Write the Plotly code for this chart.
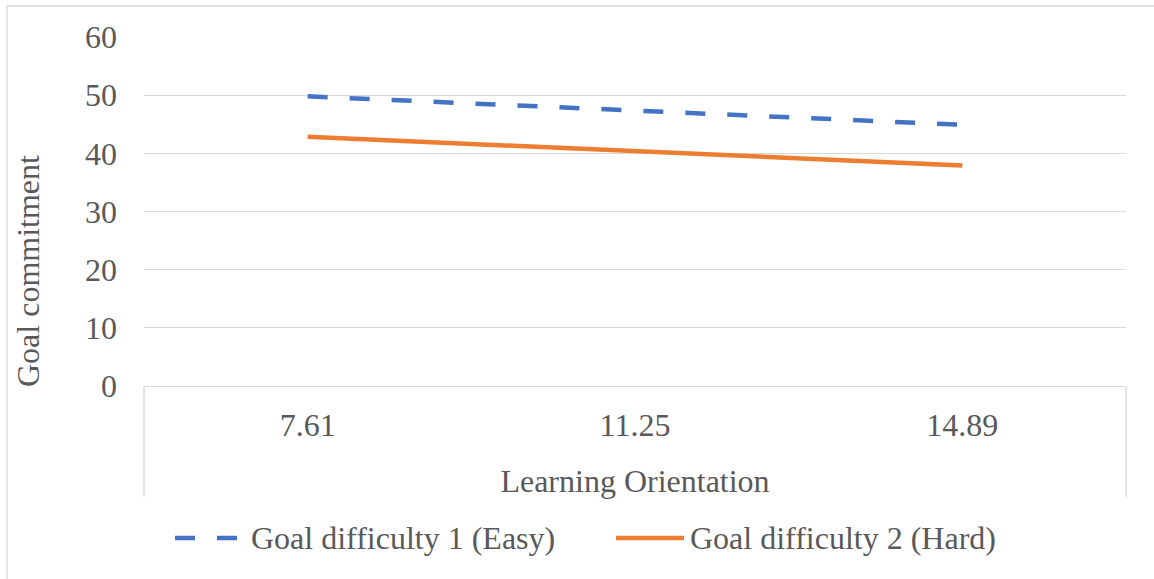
import plotly.graph_objects as go

categories = ["7.61", "11.25", "14.89"]
easy_values = [49.8, 47.35, 44.9]
hard_values = [42.85, 40.35, 37.9]
series_names = ["Goal difficulty 1 (Easy)", "Goal difficulty 2 (Hard)"]
series_colors = ["#4472C4", "#ED7D31"]
y_ticks = [0, 10, 20, 30, 40, 50, 60]

FONT = "Liberation Serif, Times New Roman, serif"
TXT = "#595959"
GRID = "#d9d9d9"
FS = 32

# plot area in pixels
L, R, T, B = 144, 1126, 37, 386
PW, PH = R - L, B - T


def px(x):
    return (x - L) / PW


def py(y):
    return (B - y) / PH


fig = go.Figure()
fig.add_trace(go.Scatter(x=categories, y=easy_values, mode="lines", name=series_names[0],
                         line=dict(color=series_colors[0], width=4.5, dash="20px,22px"),
                         showlegend=False))
fig.add_trace(go.Scatter(x=categories, y=hard_values, mode="lines", name=series_names[1],
                         line=dict(color=series_colors[1], width=4.5),
                         showlegend=False))

fig.update_layout(
    width=1154, height=579,
    margin=dict(l=L, r=1154 - R, t=T, b=579 - B, autoexpand=False),
    paper_bgcolor="white", plot_bgcolor="white",
    font=dict(family=FONT, size=FS, color=TXT),
    xaxis=dict(type="category", showgrid=False, showline=True, linecolor=GRID, linewidth=1.3,
               ticks="", ticklabelstandoff=10, tickfont=dict(size=FS, color=TXT),
               range=[-0.5, 2.5],
               title=dict(text="Learning Orientation", standoff=28, font=dict(size=FS, color=TXT))),
    yaxis=dict(range=[0, 60], tickvals=y_ticks, showgrid=True, gridcolor=GRID, gridwidth=1.3,
               zeroline=False, showline=False, ticks="", ticklabelstandoff=26,
               tickfont=dict(size=FS, color=TXT)),
)

# Y-axis title placed like Excel (centered on axis + category area)
fig.add_annotation(text="Goal commitment", textangle=-90, xref="paper", yref="paper",
                   x=px(28), y=py(271), showarrow=False,
                   font=dict(family=FONT, size=FS, color=TXT), xanchor="center", yanchor="middle")

# Category axis box side lines
for xp in (0, 1):
    fig.add_shape(type="line", xref="paper", yref="paper", x0=xp, x1=xp, y0=0, y1=py(497),
                  line=dict(color=GRID, width=1.3))

# Outer chart border
fig.add_shape(type="rect", xref="paper", yref="paper",
              x0=px(7), x1=px(1160), y0=py(590), y1=py(6),
              line=dict(color=GRID, width=1.3))

# Custom legend (Excel-style)
leg_y = py(538)
fig.add_shape(type="line", xref="paper", yref="paper", x0=px(175), x1=px(237), y0=leg_y, y1=leg_y,
              line=dict(color=series_colors[0], width=4.5, dash="20px,22px"))
fig.add_annotation(text=series_names[0], xref="paper", yref="paper", x=px(249), y=leg_y,
                   xanchor="left", yanchor="middle", showarrow=False,
                   font=dict(family=FONT, size=FS, color=TXT))
fig.add_shape(type="line", xref="paper", yref="paper", x0=px(616), x1=px(684), y0=leg_y, y1=leg_y,
              line=dict(color=series_colors[1], width=4.5))
fig.add_annotation(text=series_names[1], xref="paper", yref="paper", x=px(688), y=leg_y,
                   xanchor="left", yanchor="middle", showarrow=False,
                   font=dict(family=FONT, size=FS, color=TXT))

fig.write_html("out.html", config={"displayModeBar": False},
               post_script="document.body.style.margin='0';")
